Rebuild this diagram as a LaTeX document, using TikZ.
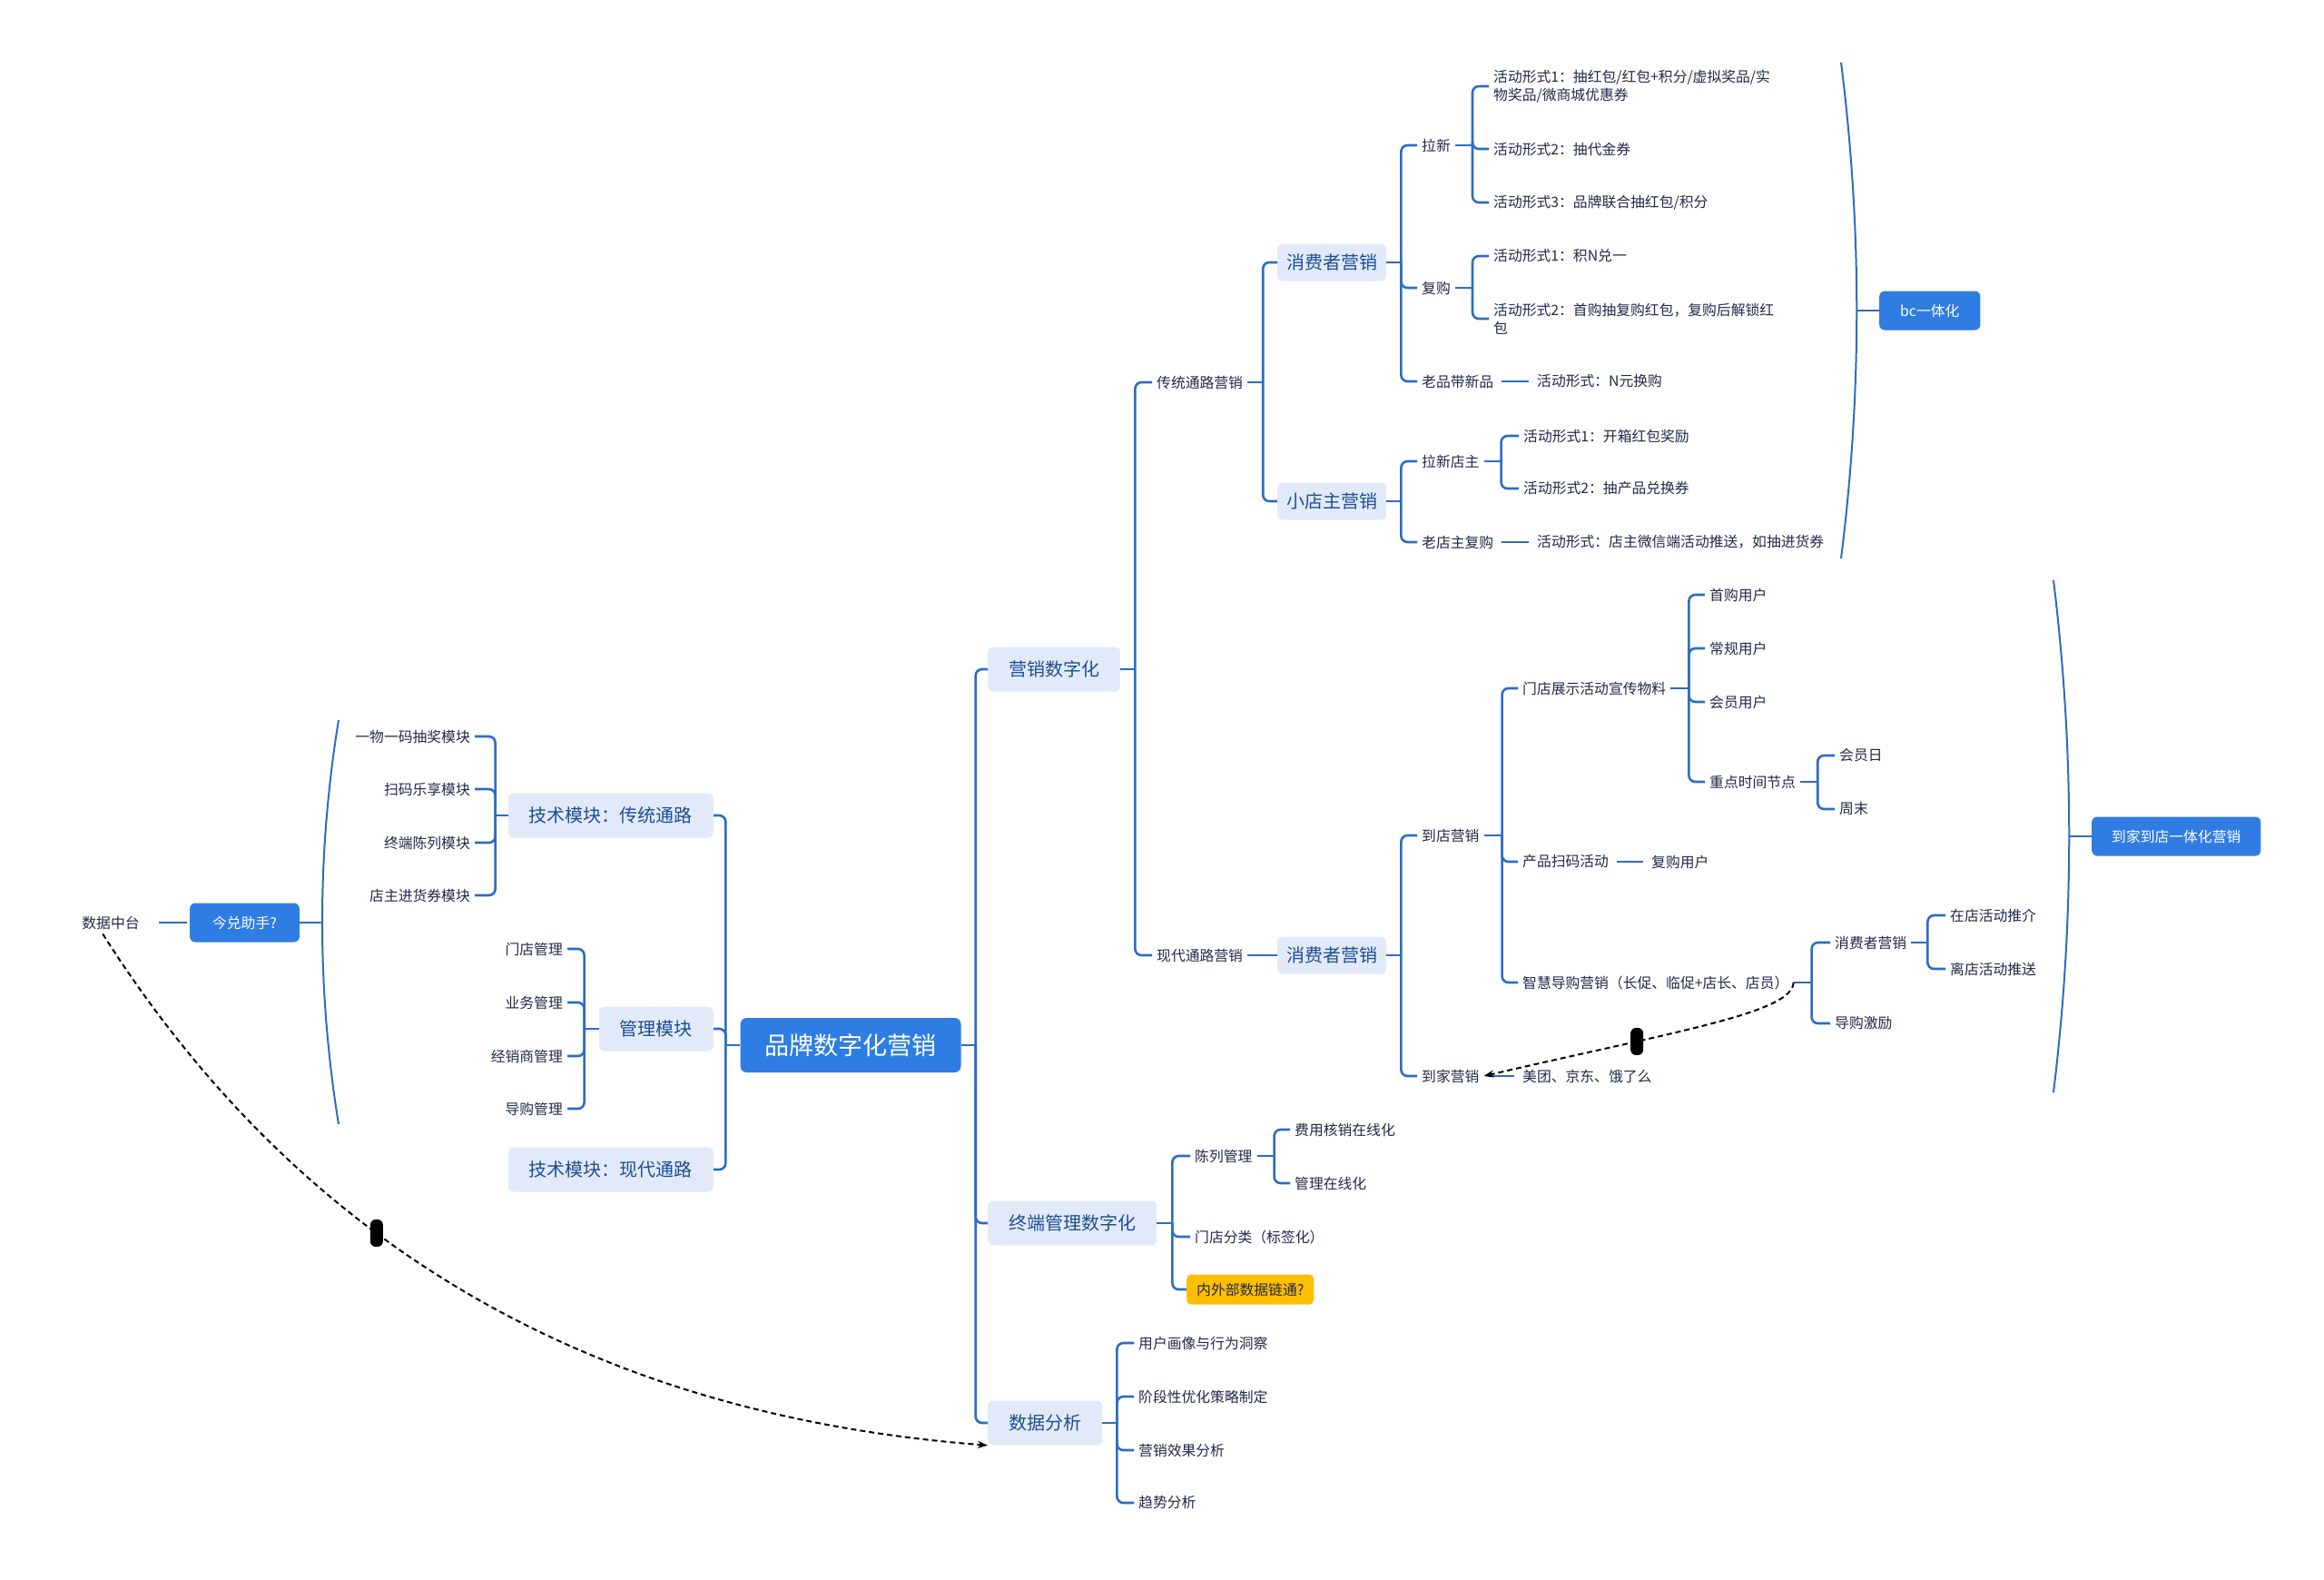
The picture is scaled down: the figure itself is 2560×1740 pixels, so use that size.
\documentclass[tikz,border=0pt]{standalone}
\usepackage{fontspec}
\setmainfont{Noto Sans CJK SC}
\usepackage{xcolor}
\usepackage{tikz}
\usetikzlibrary{arrows.meta}
\definecolor{mmLine}{HTML}{2C6CC2}
\definecolor{mmRoot}{HTML}{2F7DE3}
\definecolor{mmSoft}{HTML}{E2EAFA}
\definecolor{mmDeep}{HTML}{1D4E90}
\definecolor{mmText}{HTML}{1E2A48}
\definecolor{mmGold}{HTML}{FFBF00}

\begin{document}
\begin{tikzpicture}[x=1pt,y=-1pt,
  leaf/.style={text=mmText,inner sep=5pt,align=left,font=\fontsize{15.8}{20}\selectfont},
  subbox/.style={fill=mmSoft,text=mmDeep,rounded corners=6pt,minimum height=41pt,inner xsep=10pt,font=\fontsize{20}{24}\selectfont},
  mainbox/.style={subbox,minimum height=49pt,inner xsep=23pt},
  rootbox/.style={fill=mmRoot,text=white,rounded corners=7pt,minimum height=60pt,inner xsep=27pt,font=\fontsize{27}{32}\selectfont},
  tagbox/.style={fill=mmRoot,text=white,rounded corners=6pt,minimum height=43pt,inner xsep=25pt,font=\fontsize{15.8}{20}\selectfont},
  notebox/.style={fill=mmGold,text=mmText,rounded corners=5pt,minimum height=33pt,inner xsep=11pt,font=\fontsize{15.8}{20}\selectfont},
  branch/.style={draw=mmLine,line width=2.6pt,rounded corners=7pt},
  single/.style={branch,shorten <=4pt,shorten >=4pt},
  summary/.style={draw=mmLine,line width=2pt},
  relation/.style={draw=black,line width=2pt,dash pattern=on 6pt off 4pt,-{Stealth[length=11pt,width=8pt]}},
  knob/.style={fill=black,rounded corners=6pt,minimum width=14pt,minimum height=30pt,inner sep=0pt}]
\fill[white] (0,0) rectangle (2560,1740);
\useasboundingbox (0,0) rectangle (2560,1740);

\node[rootbox] (pp) at (937,1151) {品牌数字化营销};
\node[mainbox,anchor=west] (yx) at (1088,737) {营销数字化};
\node[mainbox,anchor=west] (zd) at (1088,1347) {终端管理数字化};
\node[mainbox,anchor=west] (sj) at (1088,1567) {数据分析};
\node[mainbox,anchor=east] (jc) at (786,898) {技术模块：传统通路};
\node[mainbox,anchor=east] (gl) at (786,1133) {管理模块};
\node[mainbox,anchor=east] (jx) at (786,1288) {技术模块：现代通路};
\draw[branch] (pp.east) -- ++(16,0);
\foreach \ch in {yx,zd,sj} \draw[branch] ([xshift=16pt]pp.east) |- (\ch.west);
\draw[branch] (pp.west) -- ++(-16,0);
\foreach \ch in {jc,gl,jx} \draw[branch] ([xshift=-16pt]pp.west) |- (\ch.east);

\node[leaf,anchor=east] (jc1) at (523,811) {一物一码抽奖模块};
\node[leaf,anchor=east] (jc2) at (523,869) {扫码乐享模块};
\node[leaf,anchor=east] (jc3) at (523,928) {终端陈列模块};
\node[leaf,anchor=east] (jc4) at (523,986) {店主进货券模块};
\draw[branch] (jc.west) -- ++(-14,0);
\foreach \ch in {jc1,jc2,jc3,jc4} \draw[branch] ([xshift=-14pt]jc.west) |- (\ch.east);

\node[leaf,anchor=east] (gl1) at (625,1045) {门店管理};
\node[leaf,anchor=east] (gl2) at (625,1104) {业务管理};
\node[leaf,anchor=east] (gl3) at (625,1163) {经销商管理};
\node[leaf,anchor=east] (gl4) at (625,1221) {导购管理};
\draw[branch] (gl.west) -- ++(-16,0);
\foreach \ch in {gl1,gl2,gl3,gl4} \draw[branch] ([xshift=-16pt]gl.west) |- (\ch.east);

\draw[summary] (373,793) .. controls (349,940) and (349,1090) .. (373,1238);
\coordinate (lm) at (355,1016);
\node[tagbox,anchor=east] (jd) at (330,1016) {今兑助手?};
\node[leaf] (dz) at (122,1016) {数据中台};
\draw[summary] (lm) -- (jd.east);
\draw[branch,shorten <=16pt,shorten >=3pt] (dz.east) -- (jd.west);

\node[leaf,anchor=west] (ct) at (1269,421) {传统通路营销};
\node[leaf,anchor=west] (xd) at (1269,1052) {现代通路营销};
\draw[branch] (yx.east) -- ++(16,0);
\foreach \ch in {ct,xd} \draw[branch] ([xshift=16pt]yx.east) |- (\ch.west);

\node[subbox,anchor=west] (xf) at (1407,289) {消费者营销};
\node[subbox,anchor=west] (xz) at (1407,552) {小店主营销};
\draw[branch] (ct.east) -- ++(17,0);
\foreach \ch in {xf,xz} \draw[branch] ([xshift=17pt]ct.east) |- (\ch.west);

\node[leaf,anchor=west] (lx) at (1561,160) {拉新};
\node[leaf,anchor=west] (fg) at (1561,317) {复购};
\node[leaf,anchor=west] (lp) at (1561,420) {老品带新品};
\draw[branch] (xf.east) -- ++(16,0);
\foreach \ch in {lx,fg,lp} \draw[branch] ([xshift=16pt]xf.east) |- (\ch.west);

\node[leaf,anchor=west] (lx1) at (1640,95) {活动形式1：抽红包/红包+积分/虚拟奖品/实\\物奖品/微商城优惠券};
\node[leaf,anchor=west] (lx2) at (1640,164) {活动形式2：抽代金券};
\node[leaf,anchor=west] (lx3) at (1640,223) {活动形式3：品牌联合抽红包/积分};
\draw[branch] (lx.east) -- ++(19,0);
\foreach \ch in {lx1,lx2,lx3} \draw[branch] ([xshift=19pt]lx.east) |- (\ch.west);

\node[leaf,anchor=west] (fg1) at (1640,282) {活动形式1：积N兑一};
\node[leaf,anchor=west] (fg2) at (1640,351) {活动形式2：首购抽复购红包，复购后解锁红\\包};
\draw[branch] (fg.east) -- ++(19,0);
\foreach \ch in {fg1,fg2} \draw[branch] ([xshift=19pt]fg.east) |- (\ch.west);

\node[leaf,anchor=west] (lpa) at (1688,420) {活动形式：N元换购};
\draw[single] (lp.east) -- (lpa.west);

\node[leaf,anchor=west] (ld) at (1561,508) {拉新店主};
\node[leaf,anchor=west] (lf) at (1561,597) {老店主复购};
\draw[branch] (xz.east) -- ++(16,0);
\foreach \ch in {ld,lf} \draw[branch] ([xshift=16pt]xz.east) |- (\ch.west);

\node[leaf,anchor=west] (ld1) at (1673,480) {活动形式1：开箱红包奖励};
\node[leaf,anchor=west] (ld2) at (1673,538) {活动形式2：抽产品兑换券};
\draw[branch] (ld.east) -- ++(19,0);
\foreach \ch in {ld1,ld2} \draw[branch] ([xshift=19pt]ld.east) |- (\ch.west);

\node[leaf,anchor=west] (lfa) at (1688,597) {活动形式：店主微信端活动推送，如抽进货券};
\draw[single] (lf.east) -- (lfa.west);

\draw[summary] (2028,69) .. controls (2051,250) and (2051,433) .. (2028,615);
\coordinate (bm) at (2045,342);
\node[tagbox,anchor=west,inner xsep=23pt] (bc) at (2070,342) {bc一体化};
\draw[summary] (bm) -- (bc.west);

\node[subbox,anchor=west] (xs) at (1407,1052) {消费者营销};
\draw[branch] (xd.east) -- (xs.west);

\node[leaf,anchor=west] (dd) at (1561,920) {到店营销};
\node[leaf,anchor=west] (dj) at (1561,1185) {到家营销};
\draw[branch] (xs.east) -- ++(16,0);
\foreach \ch in {dd,dj} \draw[branch] ([xshift=16pt]xs.east) |- (\ch.west);

\node[leaf,anchor=west] (mz) at (1672,758) {门店展示活动宣传物料};
\node[leaf,anchor=west] (cs) at (1672,949) {产品扫码活动};
\node[leaf,anchor=west] (zh) at (1672,1082) {智慧导购营销（长促、临促+店长、店员）};
\draw[branch] (dd.east) -- ++(20,0);
\foreach \ch in {mz,cs,zh} \draw[branch] ([xshift=20pt]dd.east) |- (\ch.west);

\node[leaf,anchor=west] (u1) at (1878,655) {首购用户};
\node[leaf,anchor=west] (u2) at (1878,714) {常规用户};
\node[leaf,anchor=west] (u3) at (1878,773) {会员用户};
\node[leaf,anchor=west] (u4) at (1878,861) {重点时间节点};
\draw[branch] (mz.east) -- ++(20,0);
\foreach \ch in {u1,u2,u3,u4} \draw[branch] ([xshift=20pt]mz.east) |- (\ch.west);

\node[leaf,anchor=west] (u41) at (2021,832) {会员日};
\node[leaf,anchor=west] (u42) at (2021,891) {周末};
\draw[branch] (u4.east) -- ++(19,0);
\foreach \ch in {u41,u42} \draw[branch] ([xshift=19pt]u4.east) |- (\ch.west);

\node[leaf,anchor=west] (csa) at (1814,949) {复购用户};
\draw[single] (cs.east) -- (csa.west);

\node[leaf,anchor=west] (zx) at (2016,1038) {消费者营销};
\node[leaf,anchor=west] (zj) at (2016,1127) {导购激励};
\draw[branch] (zh.east) -- ++(20,0);
\foreach \ch in {zx,zj} \draw[branch] ([xshift=20pt]zh.east) |- (\ch.west);

\node[leaf,anchor=west] (zx1) at (2143,1008) {在店活动推介};
\node[leaf,anchor=west] (zx2) at (2143,1067) {离店活动推送};
\draw[branch] (zx.east) -- ++(18,0);
\foreach \ch in {zx1,zx2} \draw[branch] ([xshift=18pt]zx.east) |- (\ch.west);

\node[leaf,anchor=west] (dja) at (1672,1185) {美团、京东、饿了么};
\draw[single] (dj.east) -- (dja.west);
\draw[relation] (zh.east) .. controls (1975,1115) and (1850,1135) .. (dj.east) node[knob,pos=0.7] (k1) {};

\draw[summary] (2262,639) .. controls (2285,827) and (2285,1015) .. (2262,1203);
\coordinate (dm) at (2279,921);
\node[tagbox,anchor=west,inner xsep=22pt] (dx) at (2304,921) {到家到店一体化营销};
\draw[summary] (dm) -- (dx.west);

\node[leaf,anchor=west] (cl) at (1311,1273) {陈列管理};
\node[leaf,anchor=west] (fl) at (1311,1362) {门店分类（标签化）};
\node[notebox,anchor=west] (nb) at (1307,1420) {内外部数据链通?};
\draw[branch] (zd.east) -- ++(17,0);
\foreach \ch in {cl,fl,nb} \draw[branch] ([xshift=17pt]zd.east) |- (\ch.west);

\node[leaf,anchor=west] (cl1) at (1421,1244) {费用核销在线化};
\node[leaf,anchor=west] (cl2) at (1421,1303) {管理在线化};
\draw[branch] (cl.east) -- ++(19,0);
\foreach \ch in {cl1,cl2} \draw[branch] ([xshift=19pt]cl.east) |- (\ch.west);

\node[leaf,anchor=west] (s1) at (1249,1479) {用户画像与行为洞察};
\node[leaf,anchor=west] (s2) at (1249,1538) {阶段性优化策略制定};
\node[leaf,anchor=west] (s3) at (1249,1597) {营销效果分析};
\node[leaf,anchor=west] (s4) at (1249,1655) {趋势分析};
\draw[branch] (sj.east) -- ++(16,0);
\foreach \ch in {s1,s2,s3,s4} \draw[branch] ([xshift=16pt]sj.east) |- (\ch.west);

\draw[relation] (dz.235) .. controls (330,1370) and (650,1558) .. (sj.south west) node[knob,pos=0.39] (k2) {};
\end{tikzpicture}
\end{document}
